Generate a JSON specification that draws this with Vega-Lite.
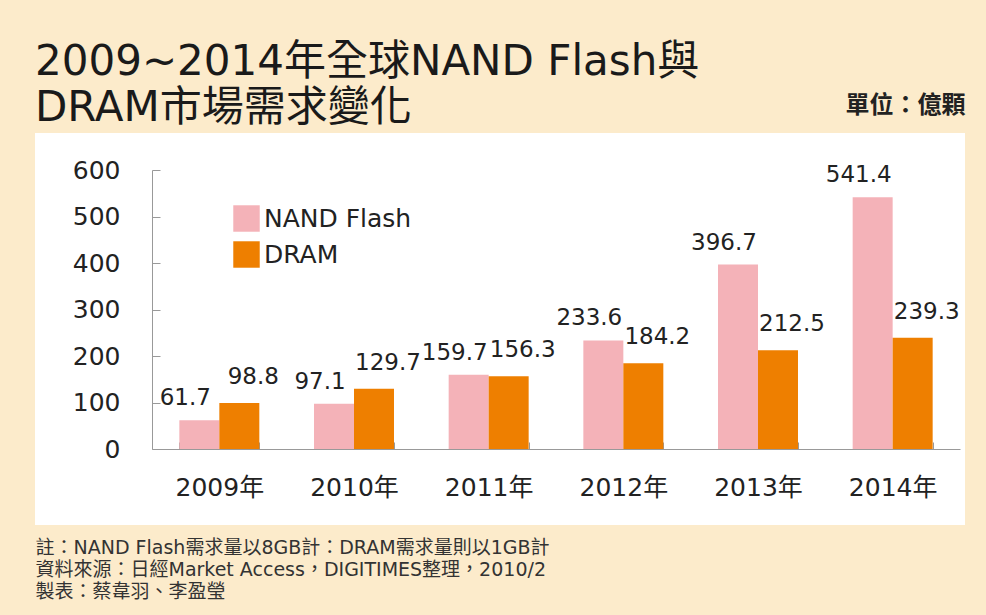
{
  "$schema": "https://vega.github.io/schema/vega-lite/v6.json",
  "width": 930,
  "height": 392,
  "autosize": {"type": "none"},
  "padding": {"left": 35, "top": 133, "right": 21, "bottom": 90},
  "background": "#fcebcb",
  "view": {"fill": "white", "stroke": null},
  "config": {
    "font": "DejaVu Sans, Noto Sans CJK TC",
    "text": {"font": "DejaVu Sans, Noto Sans CJK TC"}
  },
  "title": {
    "text": ["2009~2014年全球NAND Flash與", "DRAM市場需求變化"],
    "anchor": "start",
    "fontSize": 42,
    "lineHeight": 46,
    "font": "DejaVu Sans, Noto Sans CJK TC",
    "fontWeight": "normal",
    "color": "#1a1a1a",
    "offset": -37
  },
  "data": {
    "values": [
      {"year": "2009年", "series": "NAND Flash", "value": 61.7},
      {"year": "2009年", "series": "DRAM", "value": 98.8},
      {"year": "2010年", "series": "NAND Flash", "value": 97.1},
      {"year": "2010年", "series": "DRAM", "value": 129.7},
      {"year": "2011年", "series": "NAND Flash", "value": 159.7},
      {"year": "2011年", "series": "DRAM", "value": 156.3},
      {"year": "2012年", "series": "NAND Flash", "value": 233.6},
      {"year": "2012年", "series": "DRAM", "value": 184.2},
      {"year": "2013年", "series": "NAND Flash", "value": 396.7},
      {"year": "2013年", "series": "DRAM", "value": 212.5},
      {"year": "2014年", "series": "NAND Flash", "value": 541.4},
      {"year": "2014年", "series": "DRAM", "value": 239.3}
    ]
  },
  "encoding": {
    "x": {
      "field": "year",
      "type": "nominal",
      "scale": {"range": [117, 925], "paddingInner": 0.406, "paddingOuter": 0.203},
      "axis": {
        "offset": -76,
        "domainColor": "#999999",
        "tickColor": "#999999",
        "tickSize": -7,
        "tickBand": "extent",
        "labelAngle": 0,
        "labelFontSize": 25,
        "labelColor": "#222222",
        "labelPadding": 33,
        "title": ["註：NAND Flash需求量以8GB計：DRAM需求量則以1GB計", "資料來源：日經Market Access，DIGITIMES整理，2010/2", "製表：蔡韋羽、李盈瑩"],
        "titleX": 0,
        "titleY": 89,
        "titleAlign": "left",
        "titleBaseline": "top",
        "titleFontSize": 19,
        "titleLineHeight": 22,
        "titleFontWeight": "normal",
        "titleColor": "#333333"
      }
    },
    "xOffset": {"field": "series", "type": "nominal", "sort": ["NAND Flash", "DRAM"], "scale": {"paddingInner": 0}},
    "y": {
      "field": "value",
      "type": "quantitative",
      "scale": {"domain": [0, 600], "range": [316, 37], "nice": false},
      "axis": {
        "offset": -117,
        "values": [0, 100, 200, 300, 400, 500, 600],
        "grid": false,
        "domainColor": "#999999",
        "tickColor": "#999999",
        "tickSize": -8,
        "labelFontSize": 25,
        "labelColor": "#222222",
        "labelPadding": 40,
        "title": "單位：億顆",
        "titleAngle": 0,
        "titleX": 813,
        "titleY": -28,
        "titleAlign": "right",
        "titleBaseline": "middle",
        "titleFontSize": 24,
        "titleFontWeight": "bold",
        "titleColor": "#222222"
      }
    }
  },
  "layer": [
    {
      "mark": {"type": "bar"},
      "encoding": {
        "color": {
          "field": "series",
          "type": "nominal",
          "scale": {"domain": ["NAND Flash", "DRAM"], "range": ["#f4b2b8", "#ee7f00"]},
          "legend": {
            "orient": "none",
            "legendX": 198,
            "legendY": 72,
            "title": null,
            "symbolType": "square",
            "symbolSize": 700,
            "symbolStrokeWidth": 0,
            "labelFontSize": 25,
            "labelColor": "#222222",
            "labelOffset": 4,
            "rowPadding": 9,
            "padding": 0
          }
        }
      }
    },
    {
      "transform": [{"filter": "datum.series === 'NAND Flash'"}],
      "mark": {"type": "text", "dy": -22, "dx": -14, "fontSize": 23, "color": "#222222"},
      "encoding": {"text": {"field": "value", "type": "quantitative", "format": ".1f"}}
    },
    {
      "transform": [{"filter": "datum.series === 'DRAM'"}],
      "mark": {"type": "text", "dy": -26, "dx": 14, "fontSize": 23, "color": "#222222"},
      "encoding": {"text": {"field": "value", "type": "quantitative", "format": ".1f"}}
    }
  ]
}
